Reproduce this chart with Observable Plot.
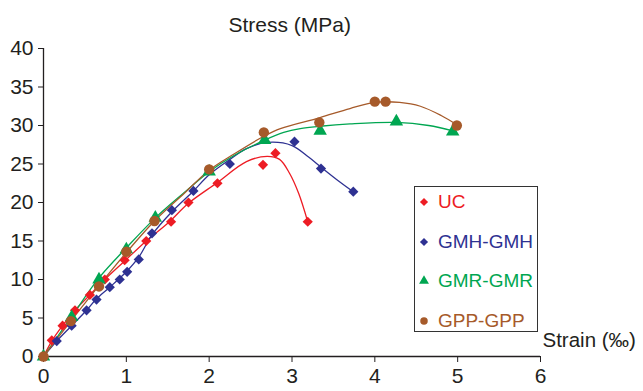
<!DOCTYPE html>
<html>
<head>
<meta charset="utf-8">
<script src="https://cdn.jsdelivr.net/npm/d3@7"></script>
<script src="https://cdn.jsdelivr.net/npm/@observablehq/plot@0.6"></script>
<style>
  html, body { margin: 0; padding: 0; background: #fff; }
  #wrap { position: relative; width: 643px; height: 391px; font-family: "Liberation Sans", Arial, sans-serif; }
  #legend { position: absolute; left: 414px; top: 186px; width: 124px; height: 146px; border: 1.4px solid #333; background: #fff; box-sizing: border-box; }
  .item { position: absolute; left: 0; display: flex; align-items: center; font-size: 19px; white-space: nowrap; }
  .item svg { margin-left: 3px; margin-right: 8px; }
</style>
</head>
<body>
<div id="wrap"></div>
<script>
// ---- data ----
const seriesNames = ["UC", "GMH-GMH", "GMR-GMR", "GPP-GPP"];
const seriesColors = ["#ed1c24", "#2e3192", "#00a651", "#a65a2a"];
const seriesSymbols = ["diamond2", "diamond2", "triangle", "circle"];

const xTicks = [0, 1, 2, 3, 4, 5, 6];
const yTicks = [0, 5, 10, 15, 20, 25, 30, 35, 40];

// measured points (markers): [strain, stress]
const ucPoints = [[0,0],[0.1,2.1],[0.23,4.0],[0.38,6.0],[0.56,8.0],[0.74,10.0],[0.98,12.5],[1.24,15.0],[1.54,17.5],[1.75,20.0],[2.1,22.5],[2.65,24.9],[2.8,26.4],[3.19,17.5]];
const gmhPoints = [[0,0],[0.16,2.0],[0.34,4.0],[0.52,6.0],[0.64,7.4],[0.8,9.0],[0.92,10.0],[1.01,11.0],[1.15,12.6],[1.31,16.0],[1.55,19.0],[1.81,21.5],[2.25,25.0],[3.03,27.9],[3.35,24.4],[3.74,21.4]];
const gmrPoints = [[0,0],[0.34,5.1],[0.67,10.0],[1.0,13.9],[1.35,18.0],[2.0,24.0],[2.67,28.1],[3.34,29.3],[4.26,30.5],[4.94,29.2]];
const gppPoints = [[0,0],[0.33,4.6],[0.67,9.1],[1.0,13.6],[1.34,17.6],[2.0,24.3],[2.66,29.1],[3.33,30.4],[4.0,33.1],[4.13,33.1],[4.99,30.0]];

// traced curves: [strain, stress]
const ucCurve = [[0,0],[0.1,2.0],[0.23,4.0],[0.38,6.0],[0.56,8.0],[0.74,10.0],[0.98,12.4],[1.24,15.0],[1.5,17.3],[1.75,19.9],[2.1,22.6],[2.45,25.3],[2.7,26.0],[2.85,25.6],[2.97,23.8],[3.08,21.2],[3.19,17.5]];
const gmhCurve = [[0,0],[0.16,2.0],[0.34,4.0],[0.52,6.0],[0.64,7.5],[0.8,9.0],[1.0,11.0],[1.15,12.9],[1.31,15.8],[1.55,18.8],[1.81,21.5],[2.0,23.6],[2.25,25.6],[2.45,27.0],[2.7,27.8],[3.0,27.4],[3.2,25.9],[3.35,24.6],[3.55,22.9],[3.74,21.4]];
const gmrCurve = [[0,0],[0.34,5.2],[0.67,10.2],[1.0,14.1],[1.35,18.0],[1.7,21.3],[2.0,24.0],[2.3,26.1],[2.67,28.1],[2.9,29.1],[3.1,29.6],[3.34,29.9],[3.7,30.2],[4.26,30.4],[4.65,30.0],[4.94,29.3]];
const gppCurve = [[0,0],[0.33,4.6],[0.67,9.2],[1.0,13.5],[1.34,17.6],[1.7,21.2],[2.0,24.2],[2.3,26.3],[2.66,28.6],[2.86,29.6],[3.33,31.0],[3.7,32.2],[4.0,33.0],[4.3,33.0],[4.55,32.5],[4.8,31.3],[4.99,30.1]];

const titleText = "Stress (MPa)";
const xLabelText = "Strain (\u2030)";

// ---- build tables ----
const pointSets = [ucPoints, gmhPoints, gmrPoints, gppPoints];
const curveSets = [ucCurve, gmhCurve, gmrCurve, gppCurve];
const points = pointSets.flatMap((arr, i) => arr.map(([x, y]) => ({x, y, s: seriesNames[i]})));
const curves = curveSets.flatMap((arr, i) => arr.map(([x, y]) => ({x, y, s: seriesNames[i]})));

const colorOf = Object.fromEntries(seriesNames.map((n, i) => [n, seriesColors[i]]));
const symOf = Object.fromEntries(seriesNames.map((n, i) => [n, seriesSymbols[i]]));
const rOf = {"UC": 4.6, "GMH-GMH": 4.6, "GMR-GMR": 5.0, "GPP-GPP": 5.2};

const font = "Liberation Sans, Arial, sans-serif";
const ink = "#231f20";

const marks = [
  Plot.axisX({ticks: xTicks, tickSize: 6, tickPadding: 6, fontSize: 21, color: ink, label: null, tickFormat: d => d}),
  Plot.axisY({ticks: yTicks, tickSize: 5, tickPadding: 5, fontSize: 21, color: ink, label: null, tickFormat: d => d}),
  Plot.ruleX([0], {y1: 0, y2: 40, stroke: ink, strokeWidth: 1.3}),
  Plot.ruleY([0], {x1: 0, x2: 6, stroke: ink, strokeWidth: 1.3}),
];
for (const n of seriesNames) {
  marks.push(Plot.line(curves.filter(d => d.s === n), {x: "x", y: "y", stroke: colorOf[n], strokeWidth: 1.3, curve: "catmull-rom"}));
}
for (const n of seriesNames) {
  marks.push(Plot.dot(points.filter(d => d.s === n), {x: "x", y: "y", fill: colorOf[n], stroke: "none", symbol: symOf[n], r: rOf[n]}));
}
marks.push(Plot.text([titleText], {frameAnchor: "top-left", dx: 185, dy: -31, text: d => d, textAnchor: "start", fontSize: 21, fill: ink}));
marks.push(Plot.text([xLabelText], {frameAnchor: "bottom-right", dx: 2, dy: -10, text: d => d, textAnchor: "start", fontSize: 20.5, fill: ink}));

const chart = Plot.plot({
  width: 643,
  height: 391,
  marginLeft: 43,
  marginRight: 103,
  marginTop: 48,
  marginBottom: 35,
  style: {fontFamily: font, background: "#fff", overflow: "visible"},
  x: {domain: [0, 6]},
  y: {domain: [0, 40]},
  marks
});

const wrap = document.getElementById("wrap");
wrap.appendChild(chart);

// legend
const legend = document.createElement("div");
legend.id = "legend";
const ys = [15, 55, 94, 134];
seriesNames.forEach((n, i) => {
  const item = document.createElement("div");
  item.className = "item";
  item.style.top = (ys[i] - 12) + "px";
  item.style.color = colorOf[n];
  const sym = d3.symbol(d3["symbol" + ({diamond2: "Diamond2", triangle: "Triangle", circle: "Circle"})[seriesSymbols[i]]], i === 3 ? 44 : 42)();
  item.innerHTML = `<svg width="12" height="24" viewBox="-6 -12 12 24"><path d="${sym}" fill="${colorOf[n]}"/></svg><span>${n}</span>`;
  legend.appendChild(item);
});
wrap.appendChild(legend);
</script>
</body>
</html>
